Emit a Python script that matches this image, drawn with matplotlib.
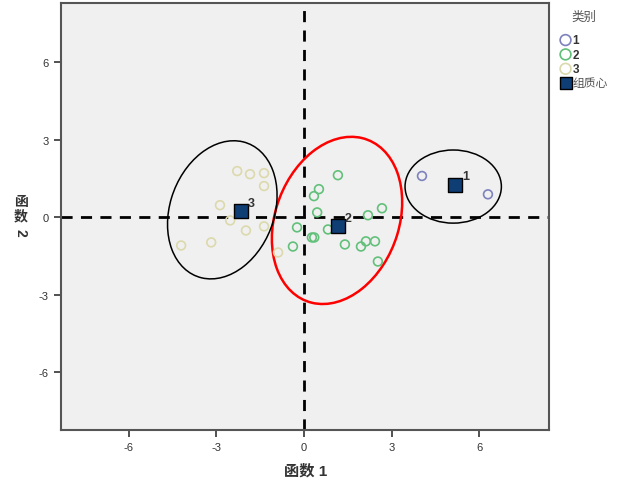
import matplotlib
matplotlib.use("Agg")
import matplotlib.pyplot as plt
from matplotlib.patches import Ellipse

plt.rcParams['font.family'] = ['Liberation Sans', 'Noto Sans CJK SC', 'DejaVu Sans']
plt.rcParams['axes.unicode_minus'] = False

# discriminant scores per group (function 1, function 2)
g1_x = [4.04, 6.30]
g1_y = [1.60, 0.89]
g2_x = [1.16, 0.51, 0.34, 0.45, 2.19, 2.67, -0.24, 0.82, 0.27, 0.35, -0.38, 1.40, 1.95, 2.12, 2.43, 2.53]
g2_y = [1.63, 1.09, 0.82, 0.19, 0.08, 0.35, -0.39, -0.47, -0.78, -0.78, -1.13, -1.05, -1.13, -0.93, -0.93, -1.71]
g3_x = [-2.29, -1.85, -1.37, -1.37, -2.88, -2.53, -1.99, -1.37, -4.21, -3.18, -0.89]
g3_y = [1.79, 1.67, 1.71, 1.21, 0.47, -0.12, -0.51, -0.35, -1.09, -0.97, -1.36]

# group centroids
cent_labels = ["1", "2", "3"]
cent_x = [5.17, 1.16, -2.16]
cent_y = [1.25, -0.35, 0.23]

# hand-drawn group ellipses: center, width, height, angle, colour
ell_cx = [5.11, 1.13, -2.80]
ell_cy = [1.19, -0.12, 0.29]
ell_w = [3.30, 4.27, 3.60]
ell_h = [2.83, 6.60, 5.45]
ell_ang = [0, -15, -15]
ell_col = ["black", "red", "black"]

fig = plt.figure(figsize=(6.27, 4.81), dpi=100)
ax = fig.add_axes([0.098, 0.104, 0.778, 0.888])
ax.set_facecolor("#f0f0f0")

ax.axvline(0, color="black", ls=(0, (4, 3)), lw=2, zorder=1)
ax.axhline(0, color="black", ls=(0, (4, 3)), lw=2, zorder=1)

h1 = ax.scatter(g1_x, g1_y, s=40, facecolors="none", edgecolors="#7d82bd", linewidths=1.2, label="1", zorder=3)
h2 = ax.scatter(g2_x, g2_y, s=40, facecolors="none", edgecolors="#62c07a", linewidths=1.2, label="2", zorder=3)
h3 = ax.scatter(g3_x, g3_y, s=40, facecolors="none", edgecolors="#dcd9ac", linewidths=1.2, label="3", zorder=3)
hc = ax.scatter(cent_x, cent_y, s=95, marker="s", facecolor="#0f3e75", edgecolor="black", linewidths=1, label="组质心", zorder=4)

for lab, x, y in zip(cent_labels, cent_x, cent_y):
    ax.annotate(lab, (x, y), xytext=(5, 4), textcoords="offset points", fontsize=9,
                color="#333333", fontweight="bold", zorder=5)

for cx, cy, w, h, a, c in zip(ell_cx, ell_cy, ell_w, ell_h, ell_ang, ell_col):
    lw = 1.8 if c == "red" else 1.1
    ax.add_patch(Ellipse((cx, cy), w, h, angle=a, fill=False, edgecolor=c, lw=lw, zorder=2))

ax.set_xlim(-8.31, 8.40)
ax.set_ylim(-8.23, 8.30)
ax.set_xticks([-6, -3, 0, 3, 6])
ax.set_yticks([-6, -3, 0, 3, 6])
ax.tick_params(direction="out", length=5, width=1.2, color="#333333", labelsize=8, labelcolor="#333333", pad=4)
for s in ax.spines.values():
    s.set_color("#555555")
    s.set_linewidth(1.5)

ax.set_xlabel("函数 1", fontsize=11, fontweight="bold", color="#333333", labelpad=8)
fig.text(0.033, 0.565, "函\n数", fontsize=10, fontweight="bold", color="#333333",
         ha="center", va="center", linespacing=1.0)
fig.text(0.033, 0.515, "2", fontsize=10, fontweight="bold", color="#333333",
         ha="center", va="center", rotation=270)

leg = fig.legend(handles=[h1, h2, h3, hc], title="类别", loc="upper left",
                 bbox_to_anchor=(0.885, 0.985), frameon=False, fontsize=8.5,
                 title_fontsize=9, handletextpad=0.1, labelspacing=0.2,
                 handlelength=1.0, borderaxespad=0)
leg.get_title().set_color("#555555")
leg._legend_box.sep = 8
for hnd in leg.legend_handles[:3]:
    hnd.set_sizes([60])
leg.legend_handles[3].set_sizes([80])
for t in leg.get_texts()[:3]:
    t.set_color("#333333")
    t.set_fontweight("bold")
leg.get_texts()[3].set_color("#555555")

fig.savefig("out.png", dpi=100)
